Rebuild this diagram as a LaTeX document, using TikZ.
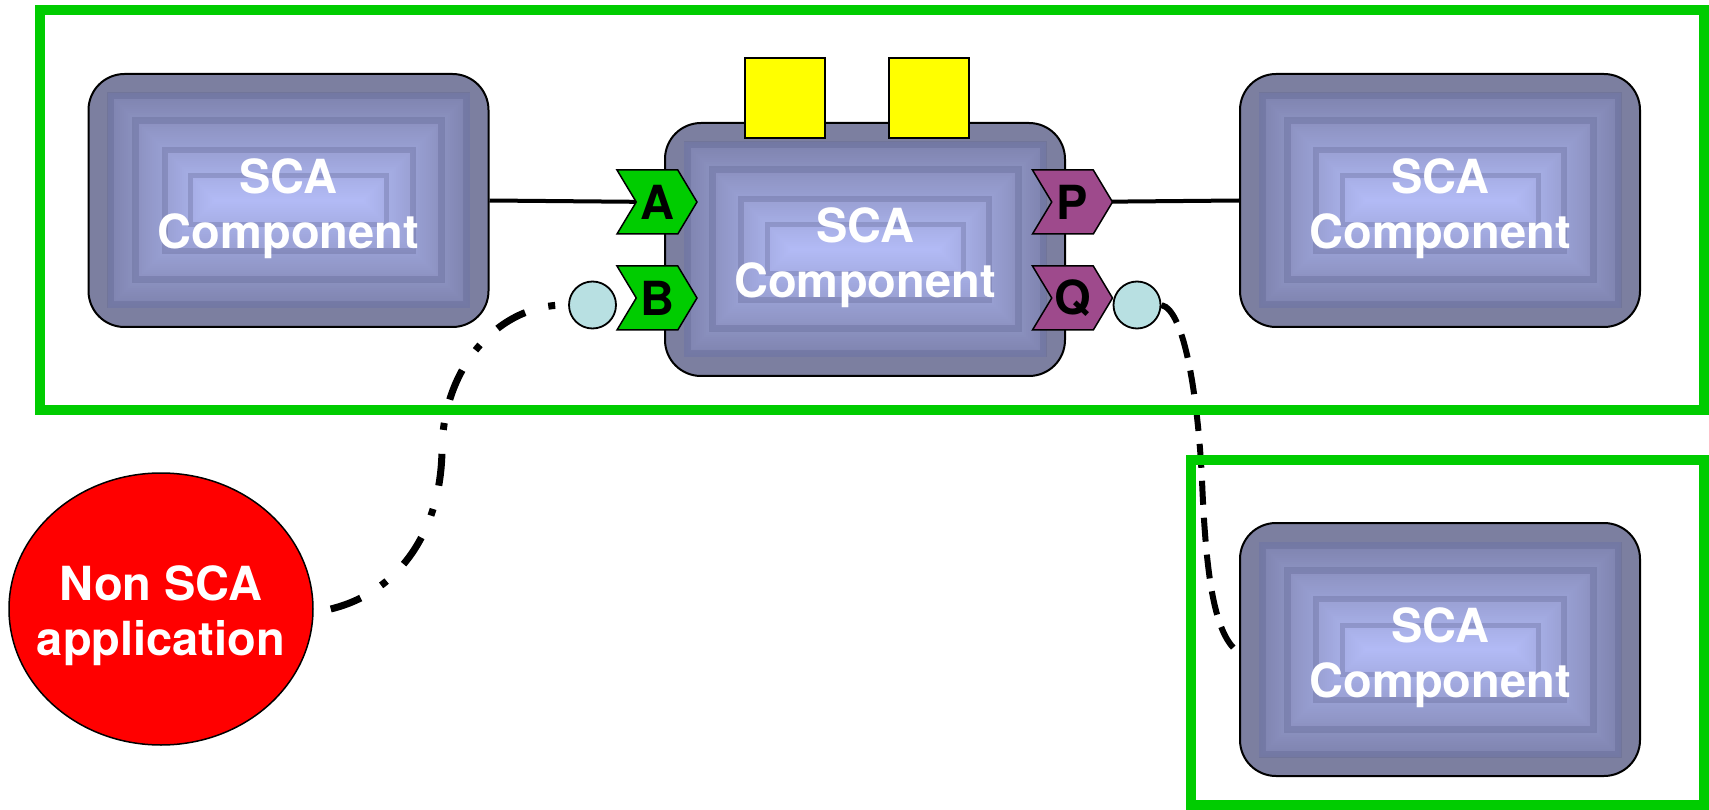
\documentclass[tikz,border=0pt]{standalone}
\usepackage{fontspec}
\setmainfont{TeX Gyre Heros}
\usetikzlibrary{shapes.symbols,shapes.geometric,calc}

\definecolor{frameGreen}{RGB}{0,204,0}
\definecolor{portGreen}{RGB}{0,204,0}
\definecolor{portPurple}{RGB}{158,74,140}
\definecolor{compRim}{RGB}{124,127,160}
\definecolor{compDark}{RGB}{126,131,174}
\definecolor{compLight}{RGB}{178,186,245}
\definecolor{compBand}{RGB}{90,96,140}
\definecolor{endCyan}{RGB}{184,224,226}
\definecolor{refYellow}{RGB}{255,255,0}

\newcommand\scabigfont{\fontsize{47}{55}\selectfont\bfseries}

\pgfdeclarelayer{background}
\pgfsetlayers{background,main}

\tikzset{
  frame/.style={draw=frameGreen, line width=10pt, inner sep=0pt},
  scacomp/.style={draw=black, line width=2pt, rounded corners=36pt,
    minimum width=400pt, minimum height=253pt, inner sep=0pt, fill=compRim,
    path picture={
      % stepped rectangular gradient, dark rim to light centre
      \foreach \i in {0,...,53}{
        \pgfmathtruncatemacro\p{round(100*\i/53)}
        \pgfmathsetmacro\ins{19+2*\i}
        \fill[compLight!\p!compDark, sharp corners]
          ($(path picture bounding box.north west)+(\ins pt,-\ins pt)$) rectangle
          ($(path picture bounding box.south east)+(-\ins pt,\ins pt)$);
      }
      % darker bands between the steps
      \foreach \ins/\w in {22/7,47/7,76/6,102/5}{
        \draw[compBand, line width=\w pt, opacity=0.3, sharp corners]
          ($(path picture bounding box.north west)+(\ins pt,-\ins pt)$) rectangle
          ($(path picture bounding box.south east)+(-\ins pt,\ins pt)$);
      }
    }},
  complabel/.style={text=white, font=\scabigfont, align=center, inner sep=0pt},
  port/.style={shape=signal, signal to=east, signal from=west,
    signal pointer angle=118, draw=black, line width=1.5pt,
    minimum width=80pt, minimum height=64pt, inner sep=0pt,
    font=\scabigfont, text=black},
  endpoint/.style={circle, draw=black, line width=1.8pt, fill=endCyan,
    minimum size=47pt, inner sep=0pt},
  intent/.style={draw=black, line width=2pt, fill=refYellow,
    minimum size=80pt, inner sep=0pt},
  wire/.style={draw=black, line width=4pt},
  dashdotwire/.style={draw=black, line width=7pt,
    dash pattern=on 32pt off 24pt on 7pt off 24pt},
  dashwire/.style={draw=black, line width=6pt,
    dash pattern=on 24pt off 13pt},
}

\begin{document}
\begin{tikzpicture}[x=1pt,y=-1pt]
\useasboundingbox (0,0) rectangle (1709,810);

% composite boundaries
\node[frame, minimum width=1664pt, minimum height=400pt] (dom1) at (872,210) {};
\node[frame, minimum width=513pt, minimum height=345pt] (dom2) at (1447.5,632.5) {};

% components
\node[scacomp] (c1) at (288.5,200.5) {};
\node[scacomp] (c2) at (865,249.5) {};
\node[scacomp] (c3) at (1440,200.5) {};
\node[scacomp] (c4) at (1440,649.5) {};
\node[complabel] (c1t) at ([yshift=-8pt]c1.center) {SCA\\Component};
\node[complabel] (c2t) at ([yshift=-8pt]c2.center) {SCA\\Component};
\node[complabel] (c3t) at ([yshift=-8pt]c3.center) {SCA\\Component};
\node[complabel] (c4t) at ([yshift=-8pt]c4.center) {SCA\\Component};

% properties on top of the central component
\node[intent] (y1) at (785,98) {};
\node[intent] (y2) at (928.5,98) {};

% services and references
\node[port, fill=portGreen] (pA) at (657,202) {A};
\node[port, fill=portGreen] (pB) at (657,298) {B};
\node[port, fill=portPurple] (pP) at (1072.5,202) {P};
\node[port, fill=portPurple] (pQ) at (1072.5,298) {Q};

% binding end points
\node[endpoint] (eB) at (592.5,305) {};
\node[endpoint] (eQ) at (1137,305) {};

% external application
\node[ellipse, draw=black, line width=1.5pt, fill=red,
      minimum width=304pt, minimum height=272pt, inner sep=0pt] (app) at (161,609) {};
\node[complabel] (appt) at ([yshift=-7pt]app.center) {Non SCA\\application};

\coordinate (appout) at ([xshift=17pt]app.east);
\coordinate (bin) at ([xshift=-4pt]eB.west);
\coordinate (qout) at (eQ.east);
\coordinate (c4in) at ([xshift=-4pt]c4.west);

\begin{pgfonlayer}{background}
  \draw[wire] (c1.east) -- (pA.center);
  \draw[wire] (pP.center) -- (c3.west);
  \draw[dashdotwire] (appout) .. controls (400,592) and (441,530) .. (442,450)
        .. controls (443,365) and (500,305) .. (bin);
  \draw[dashwire] (qout) .. controls (1185,310) and (1198,400) .. (1202,480)
        .. controls (1206,580) and (1215,630) .. (c4in);
\end{pgfonlayer}
\end{tikzpicture}
\end{document}
